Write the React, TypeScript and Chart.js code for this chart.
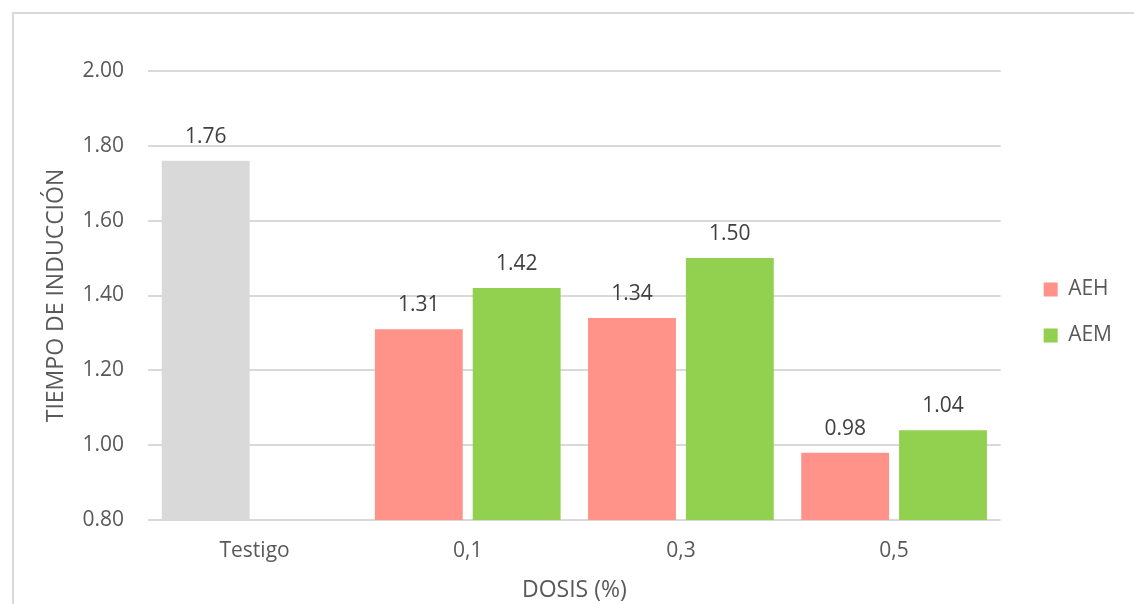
import React, { useEffect, useRef } from "react";
import { Chart, registerables } from "chart.js";

Chart.register(...registerables);

// Categories along the x axis
const categories: string[] = ["Testigo", "0,1", "0,3", "0,5"];
// Control value (drawn in the AEH slot of the first category)
const testigoValue = 1.76;
// Series values per dose (first category holds no treatment value)
const aehValues: (number | null)[] = [null, 1.31, 1.34, 0.98];
const aemValues: (number | null)[] = [null, 1.42, 1.5, 1.04];
// Y axis range
const yMin = 0.8;
const yMax = 2.0;
const yStep = 0.2;

const FONT = "'Open Sans', 'Noto Sans', sans-serif";
const GRAY = "#d9d9d9";
const SALMON = "#ff9289";
const GREEN = "#92d050";
const seriesColors = [SALMON, GREEN];

// Value labels above each bar
const valueLabels = {
  id: "valueLabels",
  afterDatasetsDraw(chart: any) {
    const ctx = chart.ctx;
    ctx.save();
    ctx.font = `21px ${FONT}`;
    ctx.fillStyle = "#404040";
    ctx.textAlign = "center";
    ctx.textBaseline = "alphabetic";
    chart.data.datasets.forEach((ds: any, di: number) => {
      const meta = chart.getDatasetMeta(di);
      meta.data.forEach((bar: any, i: number) => {
        const v = ds.data[i];
        if (v === null || v === undefined) return;
        ctx.fillText(Number(v).toFixed(2), bar.x, bar.y - 18);
      });
    });
    ctx.restore();
  },
};

// Places the legend a little right of the plot and centred on it
const legendPlacement = {
  id: "legendPlacement",
  afterLayout(chart: any) {
    const l = chart.legend;
    const ca = chart.chartArea;
    if (!l || !ca) return;
    const dx = ca.right + 18 - l.left;
    const dy = (ca.top + ca.bottom) / 2 + 17 - (l.top + l.bottom) / 2;
    l.left += dx;
    l.right += dx;
    l.top += dy;
    l.bottom += dy;
  },
};

export default function App() {
  const canvasRef = useRef<HTMLCanvasElement | null>(null);

  useEffect(() => {
    if (!canvasRef.current) return;
    const aehData = aehValues.map((v, i) => (i === 0 ? testigoValue : v));
    const chart = new Chart(canvasRef.current, {
      type: "bar",
      data: {
        labels: categories,
        datasets: [
          {
            label: "AEH",
            data: aehData,
            backgroundColor: (c: any) =>
              c.dataIndex === 0 ? GRAY : SALMON,
            categoryPercentage: 0.918,
            barPercentage: 0.898,
          },
          {
            label: "AEM",
            data: aemValues,
            backgroundColor: GREEN,
            categoryPercentage: 0.918,
            barPercentage: 0.898,
          },
        ],
      },
      options: {
        animation: false,
        responsive: false,
        maintainAspectRatio: false,
        layout: { padding: { left: 43, top: 71, right: 30, bottom: 0 } },
        plugins: {
          legend: {
            position: "right",
            align: "center",
            labels: {
              boxWidth: 14,
              boxHeight: 14,
              padding: 25,
              color: "#595959",
              font: { family: FONT, size: 21 },
              generateLabels: (chart: any) => {
                const items = Chart.defaults.plugins.legend.labels.generateLabels(chart);
                items.forEach((it: any) => {
                  const c = seriesColors[it.datasetIndex];
                  it.fillStyle = c;
                  it.strokeStyle = c;
                  it.lineWidth = 0;
                });
                return items;
              },
            },
          },
          tooltip: { enabled: false },
        },
        scales: {
          x: {
            grid: { display: false, drawTicks: false },
            border: { display: false },
            afterFit: (s: any) => {
              s.height = 84;
            },
            ticks: {
              color: "#595959",
              font: { family: FONT, size: 21 },
              padding: 18,
            },
            title: {
              display: true,
              text: "DOSIS (%)",
              color: "#595959",
              font: { family: FONT, size: 23 },
              padding: { top: 0, bottom: 0 },
            },
          },
          y: {
            min: yMin,
            max: yMax,
            afterFit: (s: any) => {
              s.width = 105;
            },
            grid: { color: GRAY, lineWidth: 2, drawTicks: false },
            border: { display: false },
            ticks: {
              stepSize: yStep,
              color: "#595959",
              font: { family: FONT, size: 21 },
              padding: 24,
              callback: (v: any) => Number(v).toFixed(2),
            },
            title: {
              display: true,
              text: "TIEMPO DE INDUCCIÓN",
              color: "#595959",
              font: { family: FONT, size: 23 },
              padding: { top: 0, bottom: 0 },
            },
          },
        },
      },
      plugins: [valueLabels, legendPlacement],
    });
    return () => chart.destroy();
  }, []);

  return (
    <div style={{ position: "absolute", left: 0, top: 0, width: 1134, height: 604, overflow: "hidden" }}>
      <div
        style={{
          position: "absolute",
          left: 12,
          top: 12,
          width: 1200,
          height: 700,
          borderTop: "2px solid #d9d9d9",
          borderLeft: "2px solid #d9d9d9",
          boxSizing: "border-box",
        }}
      />
      <canvas
        ref={canvasRef}
        width={1134}
        height={604}
        style={{ position: "absolute", left: 0, top: 0, width: 1134, height: 604 }}
      />
    </div>
  );
}
